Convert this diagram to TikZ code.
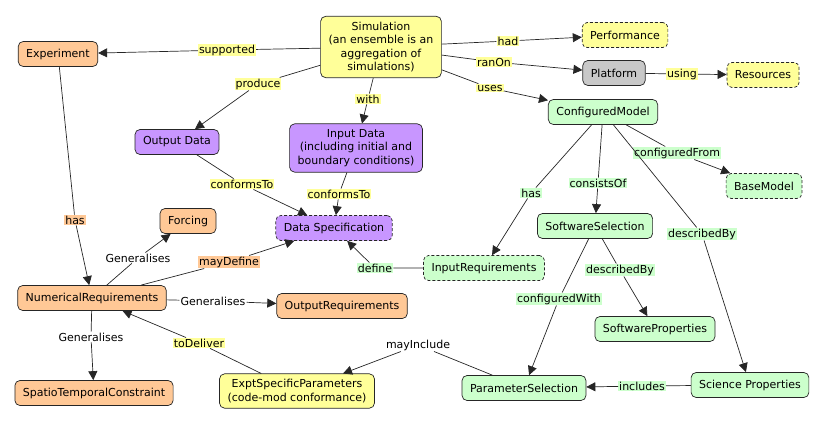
\documentclass[tikz,border=0pt]{standalone}
\usepackage{fontspec}
\setmainfont{DejaVu Sans}
\usetikzlibrary{arrows.meta}
\definecolor{cyel}{HTML}{FFFF99}
\definecolor{corg}{HTML}{FFC896}
\definecolor{cpur}{HTML}{C896FF}
\definecolor{cgrn}{HTML}{CCFFCC}
\definecolor{cgry}{HTML}{C8C8C8}
\tikzset{
  concept/.style={draw=black!85,line width=0.7pt,rounded corners=5pt,align=center,
    inner xsep=8pt,inner ysep=5.5pt,minimum height=25pt,
    font=\fontsize{11}{13.5}\selectfont},
  dashc/.style={dash pattern=on 3pt off 2pt},
  lab/.style={inner sep=1pt,font=\fontsize{11}{12}\selectfont},
  link/.style={draw=black!85,line width=0.7pt},
  arr/.style={link,-{Triangle[length=9pt,width=9pt]}}
}
\begin{document}
\begin{tikzpicture}[x=1pt,y=-1pt]
\useasboundingbox (0,0) rectangle (824,425);
\node[concept,fill=cyel] (sim) at (381,47) {Simulation\\(an ensemble is an\\aggregation of\\simulations)};
\node[concept,fill=corg] (exper) at (58,54) {Experiment};
\node[concept,fill=cyel,dashc] (perf) at (625,35) {Performance};
\node[concept,fill=cgry] (plat) at (614,73) {Platform};
\node[concept,fill=cyel,dashc] (res) at (763,75) {Resources};
\node[concept,fill=cgrn] (cmodel) at (603,112) {ConfiguredModel};
\node[concept,fill=cgrn,dashc] (bmodel) at (764,186) {BaseModel};
\node[concept,fill=cpur] (outdata) at (177,142) {Output Data};
\node[concept,fill=cpur] (indata) at (356,148) {Input Data\\(including initial and\\boundary conditions)};
\node[concept,fill=cpur,dashc] (dspec) at (334,228) {Data Specification};
\node[concept,fill=corg] (forcing) at (188,221) {Forcing};
\node[concept,fill=corg] (numreq) at (92,298) {NumericalRequirements};
\node[concept,fill=corg] (outreq) at (342,306) {OutputRequirements};
\node[concept,fill=corg] (stc) at (94,393) {SpatioTemporalConstraint};
\node[concept,fill=cyel] (esp) at (297,391) {ExptSpecificParameters\\(code-mod conformance)};
\node[concept,fill=cgrn,dashc] (inreq) at (484,268) {InputRequirements};
\node[concept,fill=cgrn] (ssel) at (595,226) {SoftwareSelection};
\node[concept,fill=cgrn] (sprop) at (655,329) {SoftwareProperties};
\node[concept,fill=cgrn] (psel) at (524,388) {ParameterSelection};
\node[concept,fill=cgrn] (sciprop) at (750,385) {Science Properties};

\node[lab,fill=cyel] (lsupported) at (227,50) {supported};
\node[lab,fill=cyel] (lproduce) at (258,84) {produce};
\node[lab,fill=cyel] (lwith) at (368,99) {with};
\node[lab,fill=cyel] (lhad) at (508,41) {had};
\node[lab,fill=cyel] (lranon) at (494,62) {ranOn};
\node[lab,fill=cyel] (luses) at (490,88) {uses};
\node[lab,fill=cyel] (lusing) at (682,74) {using};
\node[lab,fill=cyel] (lconfout) at (242,184) {conformsTo};
\node[lab,fill=cyel] (lconfin) at (339,194) {conformsTo};
\node[lab,fill=corg] (lhasexp) at (75,220) {has};
\node[lab,fill=white] (lgenforc) at (138,258) {Generalises};
\node[lab,fill=corg] (lmaydef) at (229,262) {mayDefine};
\node[lab,fill=white] (lgenout) at (213,301) {Generalises};
\node[lab,fill=white] (lgenstc) at (91,337) {Generalises};
\node[lab,fill=cyel] (ltodeliver) at (199,343) {toDeliver};
\node[lab,fill=white] (lmayinc) at (418,345) {mayInclude};
\node[lab,fill=cgrn] (ldefine) at (375,268) {define};
\node[lab,fill=cgrn] (lhascm) at (531,193) {has};
\node[lab,fill=cgrn] (lconsists) at (598,183) {consistsOf};
\node[lab,fill=cgrn] (lconffrom) at (677,153) {configuredFrom};
\node[lab,fill=cgrn] (ldescsci) at (702,234) {describedBy};
\node[lab,fill=cgrn] (ldescsw) at (620,270) {describedBy};
\node[lab,fill=cgrn] (lconfwith) at (559,299) {configuredWith};
\node[lab,fill=cgrn] (lincludes) at (642,386) {includes};

\draw[arr] (sim) -- (lsupported) -- (exper);
\draw[arr] (sim) -- (lproduce) -- (outdata);
\draw[arr] (sim) -- (lwith) -- (indata);
\draw[arr] (sim) -- (lhad) -- (perf);
\draw[arr] (sim) -- (lranon) -- (plat);
\draw[arr] (sim) -- (luses) -- (cmodel);
\draw[arr] (plat) -- (lusing) -- (res);
\draw[arr] (outdata) -- (lconfout) -- (dspec);
\draw[arr] (indata) -- (lconfin) -- (dspec);
\draw[arr] (exper) -- (lhasexp) -- (numreq);
\draw[arr] (numreq) -- (lgenforc) -- (forcing);
\draw[arr] (numreq) -- (lmaydef) -- (dspec);
\draw[arr] (numreq) -- (lgenout) -- (outreq);
\draw[arr] (numreq) -- (lgenstc) -- (stc);
\draw[arr] (esp) -- (ltodeliver) -- (numreq);
\draw[arr] (psel) -- (lmayinc) -- (esp);
\draw[arr] (inreq) -- (ldefine) -- (dspec);
\draw[arr] (cmodel) -- (lhascm) -- (inreq);
\draw[arr] (cmodel) -- (lconsists) -- (ssel);
\draw[arr] (cmodel) -- (lconffrom) -- (bmodel);
\draw[arr] (cmodel) -- (ldescsci) -- (sciprop);
\draw[arr] (ssel) -- (ldescsw) -- (sprop);
\draw[arr] (ssel) -- (lconfwith) -- (psel);
\draw[arr] (sciprop) -- (lincludes) -- (psel);
\end{tikzpicture}
\end{document}
